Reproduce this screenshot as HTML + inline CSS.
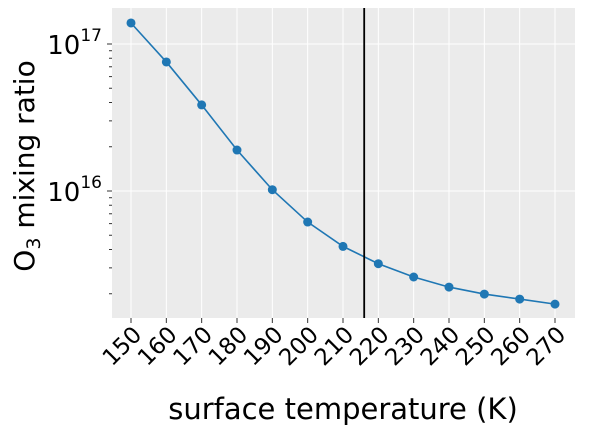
<!DOCTYPE html>
<html><head><meta charset="utf-8"><style>
body{margin:0;background:#fff;}
svg{font-family:"DejaVu Sans","Liberation Sans",sans-serif;}
</style></head><body>
<svg id="chart" width="591" height="434" viewBox="0 0 591 434">
<rect x="112" y="8" width="463" height="310" fill="#ebebeb"/>
<g id="grid"></g><g id="axes"></g><g id="series"></g>
<text x="343" y="419" font-size="29" text-anchor="middle" fill="#000">surface temperature (K)</text>
<text transform="translate(34,166) rotate(-90)" font-size="28" text-anchor="middle" fill="#000">O<tspan font-size="19" dy="6">3</tspan><tspan dy="-6"> mixing ratio</tspan></text>
</svg>
<script>
const temps=[150,160,170,180,190,200,210,220,230,240,250,260,270];
const ratios=[1.39e17,7.55e16,3.85e16,1.9e16,1.02e16,6.15e15,4.2e15,3.2e15,2.6e15,2.22e15,1.99e15,1.84e15,1.70e15];
const xTicks=[150,160,170,180,190,200,210,220,230,240,250,260,270];
const yMajor=[1e16,1e17];
const yMinor=[2e15,3e15,4e15,5e15,6e15,7e15,8e15,9e15,2e16,3e16,4e16,5e16,6e16,7e16,8e16,9e16];
const markerTemp=[216];
const NS="http://www.w3.org/2000/svg";
const X=t=>131+(t-150)*(555-131)/120;
const Y=v=>44-(Math.log10(v)-17)*147;
function mk(tag,attrs,parent){const e=document.createElementNS(NS,tag);for(const k in attrs)e.setAttribute(k,attrs[k]);document.getElementById(parent).appendChild(e);return e;}
xTicks.forEach(t=>{
 const g=mk('line',{x1:X(t),x2:X(t),y1:8,y2:318,stroke:'#fff','stroke-width':1},'grid');
 
 
 const tk=mk('line',{x1:X(t),x2:X(t),y1:318,y2:323,stroke:'#333','stroke-width':1},'axes');
 
 
 const lb=mk('text',{x:0,y:0,'font-size':23,'text-anchor':'end',transform:`translate(${X(t)+12},${336}) rotate(-45)`,fill:'#000'},'axes');
 lb.textContent=t;
 
 
});
yMajor.forEach(v=>{
 const g=mk('line',{x1:112,x2:575,y1:Y(v),y2:Y(v),stroke:'#fff','stroke-width':1},'grid');
 
 
 const tk=mk('line',{x1:107,x2:112,y1:Y(v),y2:Y(v),stroke:'#333'},'axes');
 
 
 const lb=mk('text',{x:102,y:Y(v)+10,'font-size':26,'text-anchor':'end',fill:'#000'},'axes');
 lb.innerHTML='10<tspan font-size="17" dy="-13">'+Math.round(Math.log10(v))+'</tspan>';
 
 
});
yMinor.forEach(v=>{
 const y=Y(v); if(y<8||y>318)return;
 const tk=mk('line',{x1:109,x2:112,y1:y,y2:y,stroke:'#333'},'axes');
 
 
});
let d=temps.map((t,i)=>(i?'L':'M')+X(t)+','+Y(ratios[i])).join(' ');
const p=mk('path',{d:d,fill:'none',stroke:'#1f77b4','stroke-width':1.6},'series');


temps.forEach((t,i)=>{
 const c=mk('circle',{cx:X(t),cy:Y(ratios[i]),r:4.5,fill:'#1f77b4'},'series');
 
 
});
markerTemp.forEach(t=>{
 const l=mk('line',{x1:X(t),x2:X(t),y1:8,y2:318,stroke:'#000','stroke-width':1.8},'series');
 
 
});
</script>
</body></html>
